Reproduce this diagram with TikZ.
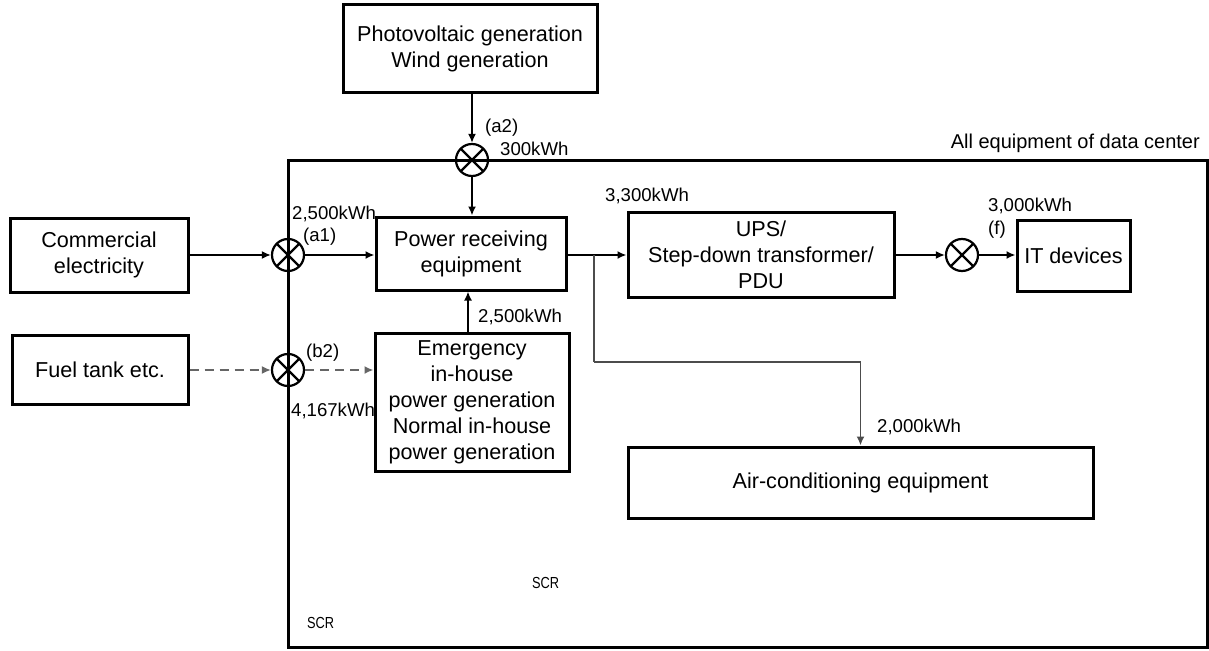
\documentclass[tikz,border=0pt]{standalone}
\usepackage{fontspec}
\setmainfont{Liberation Sans}
\usetikzlibrary{arrows.meta,calc}
\begin{document}
\begin{tikzpicture}[x=1pt,y=-1pt,
  box/.style={draw, line width=3pt, inner sep=0pt, align=center, font=\fontsize{21.6}{26}\selectfont},
  lbl/.style={inner sep=0pt, font=\fontsize{18.6}{22}\selectfont},
  meter/.style={circle, draw, line width=2.2pt, minimum size=32pt, inner sep=0pt,
    path picture={\draw[line width=2.2pt] (path picture bounding box.center) ++(45:20) -- ++(225:40)
      (path picture bounding box.center) ++(135:20) -- ++(-45:40);}},
  arr/.style={line width=1.8pt, -{Latex[length=9pt,width=8pt]}},
  darr/.style={line width=2.2pt, draw=black!60, dash pattern=on 9pt off 6pt, -{Latex[length=9pt,width=8pt]}},
  scr/.style={inner sep=0pt, font=\fontsize{16}{18}\selectfont}
]
\useasboundingbox (0,0) rectangle (1209,650);
% outer frame
\draw[line width=3pt] (288,160) rectangle (1207,647);
\node[lbl, anchor=base east, font=\fontsize{20}{22}\selectfont] (allbl) at (1200,148) {All equipment of data center};

% boxes
\node[box, minimum width=254pt, minimum height=88pt] (pv) at (470,49) {Photovoltaic generation\\Wind generation};
\node[box, minimum width=178pt, minimum height=74pt] (comm) at (99,255) {Commercial\\electricity};
\node[box, minimum width=176pt, minimum height=69pt] (fuel) at (100,370) {Fuel tank etc.};
\node[box, minimum width=190pt, minimum height=73pt] (pr) at (471,253.5) {Power receiving\\equipment};
\node[box, minimum width=194pt, minimum height=138pt] (em) at (472,402) {Emergency\\in-house\\power generation\\Normal in-house\\power generation};
\node[box, minimum width=266pt, minimum height=85pt] (ups) at (761,254.5) {UPS/\\Step-down transformer/\\PDU};
\node[box, minimum width=113pt, minimum height=71pt] (it) at (1073.5,255.5) {IT devices};
\node[box, minimum width=465pt, minimum height=71pt] (ac) at (860.5,482.5) {Air-conditioning equipment};

% meters
\node[meter] (a2) at (472,160) {};
\node[meter] (a1) at (288,255) {};
\node[meter] (b2) at (288,370) {};
\node[meter] (mf) at (962,255) {};

% connectors
\draw[arr] (pv.south -| a2) -- (a2.north);
\draw[arr] (a2.south) -- (pr.north -| a2);
\draw[arr] (comm.east) -- (a1.west);
\draw[arr] (a1.east) -- (a1 -| pr.west);
\draw[darr] (fuel.east) -- (b2.west);
\draw[darr] (b2.east) -- (b2 -| em.west);
\draw[arr] ([xshift=-4pt]em.north) -- ([xshift=-4pt]em.north |- pr.south);
\draw[arr] (pr.east |- a1) -- (ups.west |- a1);
\coordinate (br) at (594,255);
\coordinate (bt) at (594,362);
\draw[line width=1.8pt, draw=black!70] (br) -- (bt);
\draw[arr, draw=black!70] (bt) -| (ac.north);
\draw[arr] (ups.east |- mf) -- (mf.west);
\draw[arr] (mf.east) -- (mf -| it.west);

% labels
\node[lbl, anchor=base west] (la2) at (485,132) {(a2)};
\node[lbl, anchor=base west] (l300) at (500,155) {300kWh};
\node[lbl, anchor=base west] (l2500a) at (292,219) {2,500kWh};
\node[lbl, anchor=base west] (la1) at (303,241) {(a1)};
\node[lbl, anchor=base west] (lb2) at (306,357) {(b2)};
\node[lbl, anchor=base west] (l4167) at (291,416) {4,167kWh};
\node[lbl, anchor=base west] (l2500b) at (478,322) {2,500kWh};
\node[lbl, anchor=base west] (l3300) at (605,201) {3,300kWh};
\node[lbl, anchor=base west] (l3000) at (988,211) {3,000kWh};
\node[lbl, anchor=base west] (lf) at (988,234) {(f)};
\node[lbl, anchor=base west] (l2000) at (877,432) {2,000kWh};
\node[scr, anchor=base west] (scr1) at (532,588) {\scalebox{0.8}[1]{SCR}};
\node[scr, anchor=base west] (scr2) at (307,628) {\scalebox{0.8}[1]{SCR}};
\end{tikzpicture}
\end{document}
